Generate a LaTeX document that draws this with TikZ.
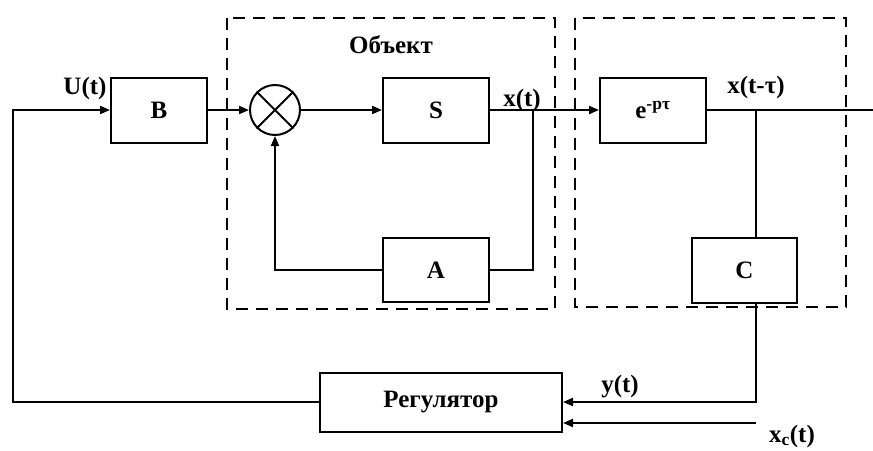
\documentclass[tikz,border=0pt]{standalone}
\usepackage{fontspec}
\setmainfont{Liberation Serif}
\usetikzlibrary{arrows.meta}
\begin{document}
\begin{tikzpicture}[x=1pt,y=-1pt, line width=2pt,
  blk/.style={draw, minimum width=106pt, minimum height=65pt, inner sep=0pt, font=\bfseries\fontsize{25}{28}\selectfont},
  arr/.style={-{Triangle[length=10pt,width=8pt]}},
  frame/.style={draw, line width=2pt, dash pattern=on 12pt off 8pt},
  lbl/.style={font=\bfseries\fontsize{25}{28}\selectfont, inner sep=0pt}]
\useasboundingbox (0,0) rectangle (873,450);
% frames
\draw[frame] (227,18) rectangle (555,309);
\draw[frame] (575,18) rectangle (846,307);
% blocks
\node[blk, minimum width=96pt] (B) at (159,110) {B};
\node[draw, circle, minimum size=50pt, inner sep=0pt] (sum) at (275,110) {};
\draw (sum.45) -- (sum.225) (sum.135) -- (sum.315);
\node[blk] (S) at (436,110) {S};
\node[blk, minimum height=64pt] (A) at (436,270) {A};
\node[blk] (E) at (653,110) {e\textsuperscript{-pτ}};
\node[blk, minimum width=105pt] (C) at (744.5,270) {C};
\node[blk, minimum width=242pt, minimum height=59pt] (R) at (441,402) {Регулятор};
% coordinates
\coordinate (L) at (13,402);
\coordinate (J1) at (533,110);
\coordinate (J2) at (756,110);
\coordinate (J3) at (756,402);
\coordinate (Rt) at (873,110);
\coordinate (Xc) at (756,423);
% connectors
\draw[arr] (R.west) -- (L) |- (B.west);
\draw[arr] (B.east) -- (sum.west);
\draw[arr] (sum.east) -- (S.west);
\draw[arr] (S.east) -- (E.west);
\draw (J1) |- (A.east);
\draw[arr] (A.west) -| (sum.south);
\draw (E.east) -- (Rt);
\draw (J2) -- (J2 |- C.north);
\draw[arr] (J2 |- C.south) -- (J3) -- (R.east);
\draw[arr] (Xc) -- (R.east |- Xc);
% labels
\node[lbl] (lU) at (85,88) {U(t)};
\node[lbl] (lx) at (522,100) {x(t)};
\node[lbl] (lxt) at (756,87) {x(t-τ)};
\node[lbl] (ly) at (620,387) {y(t)};
\node[lbl] (lxc) at (792,436) {x\textsubscript{c}(t)};
\node[lbl] (lobj) at (391,45) {Объект};
\end{tikzpicture}
\end{document}
